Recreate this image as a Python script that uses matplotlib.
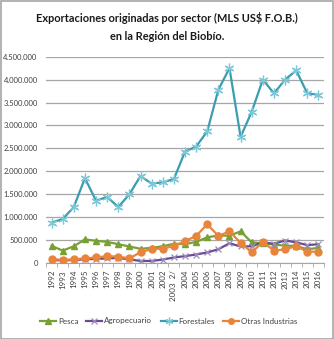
import matplotlib
matplotlib.use("Agg")
import matplotlib.pyplot as plt
from matplotlib.ticker import FuncFormatter, FixedLocator
from matplotlib.patches import Rectangle

years = ["1992", "1993", "1994", "1995", "1996", "1997", "1998", "1999", "2000",
         "2001", "2002", "2003  2/", "2004", "2005", "2006", "2007", "2008", "2009",
         "2010", "2011", "2012", "2013", "2014", "2015", "2016"]

pesca = [375000, 270000, 365000, 515000, 485000, 460000, 410000, 360000, 310000,
         330000, 365000, 420000, 410000, 460000, 560000, 600000, 595000, 690000,
         450000, 430000, 400000, 380000, 370000, 300000, 330000]
agropecuario = [60000, 60000, 65000, 80000, 90000, 100000, 110000, 80000, 45000,
                45000, 75000, 120000, 150000, 185000, 230000, 300000, 430000, 360000,
                365000, 450000, 420000, 490000, 450000, 390000, 410000]
forestales = [880000, 960000, 1220000, 1850000, 1360000, 1440000, 1220000, 1500000, 1900000,
              1730000, 1760000, 1830000, 2430000, 2540000, 2870000, 3780000, 4250000, 2750000,
              3300000, 4000000, 3700000, 4000000, 4200000, 3700000, 3670000]
otras = [85000, 68000, 80000, 100000, 120000, 150000, 140000, 100000, 235000,
         305000, 315000, 370000, 475000, 590000, 845000, 590000, 690000, 440000,
         235000, 455000, 272000, 296000, 370000, 245000, 250000]

series_names = ["Pesca", "Agropecuario", "Forestales", "Otras Industrias"]

plt.rcParams["font.family"] = ["Lato", "DejaVu Sans"]

W, H = 334, 339
fig = plt.figure(figsize=(W / 100, H / 100), dpi=100)
fig.patch.set_facecolor("white")
fig.add_artist(Rectangle((0.5 / W, 0.5 / H), 1 - 1.5 / W, 1 - 1.5 / H,
                         transform=fig.transFigure, fill=False,
                         edgecolor="#A6A6A6", linewidth=1.2))

left, right = 46 / W, 324 / W
bottom, top = 1 - 263 / H, 1 - 56.7 / H
ax = fig.add_axes([left, bottom, right - left, top - bottom])

x = list(range(len(years)))
ax.plot(x, pesca, color="#77A135", lw=1.6, marker="^", ms=5, label=series_names[0], zorder=3)
ax.plot(x, agropecuario, color="#6A4C93", lw=1.6, marker="x", ms=5, mew=0.9,
        mec="#9F8DC0", label=series_names[1], zorder=3)
ax.plot(x, forestales, color="#3A9DB1", lw=1.6, marker=(6, 2, 0), ms=7, mew=0.9,
        mec="#7CC8D8", label=series_names[2], zorder=3)
ax.plot(x, otras, color="#E8843C", lw=1.6, marker="o", ms=5, label=series_names[3], zorder=4)

ax.set_xlim(-0.5, len(years) - 0.5)
ax.set_ylim(0, 4500000)
ax.yaxis.set_major_locator(FixedLocator([i * 500000 for i in range(10)]))
ax.yaxis.set_major_formatter(FuncFormatter(lambda v, p: f"{int(v):,}".replace(",", ".")))
ax.grid(axis="y", color="#A6A6A6", lw=0.9)
ax.set_axisbelow(True)
for s in ["left", "right", "top"]:
    ax.spines[s].set_visible(False)
ax.spines["bottom"].set_color("#A6A6A6")
ax.tick_params(axis="y", length=0, labelsize=5.5, labelcolor="#404040", pad=6)
ax.set_xticks(x)
ax.set_xticklabels(years, rotation=90, fontsize=5.8, color="#404040")
ax.tick_params(axis="x", length=0, pad=5)
ax.set_xticks([i + 0.5 for i in range(-1, len(years))], minor=True)
ax.tick_params(axis="x", which="minor", length=3, color="#A6A6A6")

fig.text(0.5, 1 - 18 / H, "Exportaciones originadas por sector (MLS US$ F.O.B.)",
         ha="center", va="center", fontsize=7.9, fontweight="bold", color="#1a1a1a")
fig.text(0.5, 1 - 36 / H, "en la Región del Biobío.",
         ha="center", va="center", fontsize=7.9, fontweight="bold", color="#1a1a1a")

fig.legend(loc="center", bbox_to_anchor=(0.505, 1 - 321 / H), ncol=4, frameon=False,
           fontsize=5.8, handlelength=2.0, columnspacing=1.0, handletextpad=0.25,
           labelcolor="#404040", markerscale=0.8)

fig.savefig("out.png", dpi=100)
